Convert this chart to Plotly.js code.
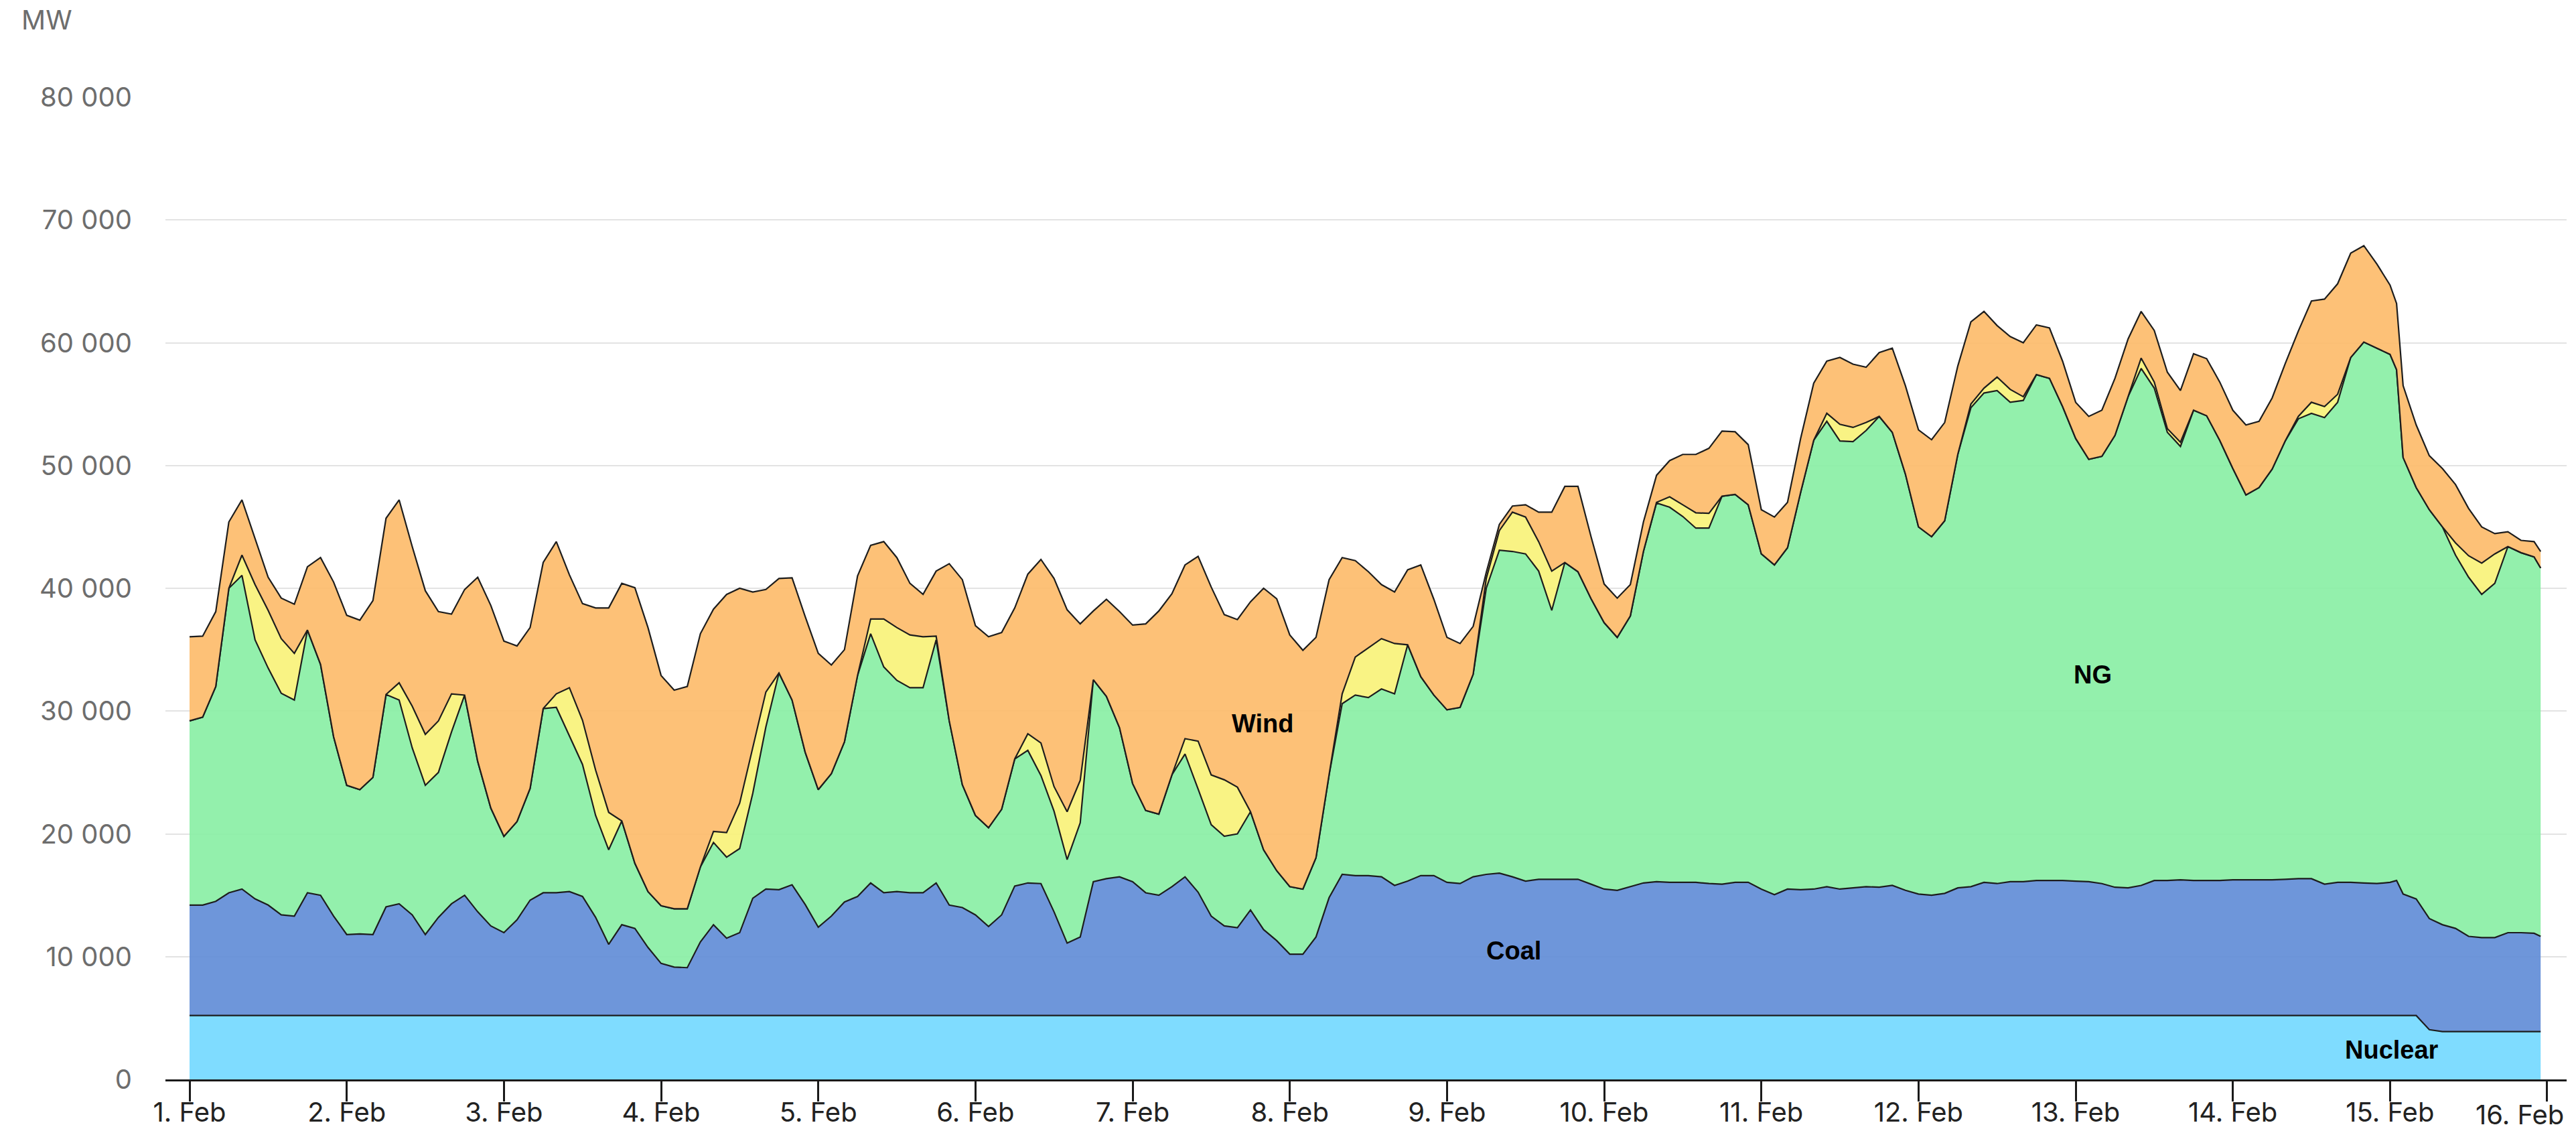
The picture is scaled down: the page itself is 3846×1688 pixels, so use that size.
<!DOCTYPE html>
<html>
<head>
<meta charset="utf-8">
<script src="https://cdn.plot.ly/plotly-3.0.1.min.js"></script>
<style>
  html, body { margin: 0; padding: 0; background: #ffffff; }
  #chart { width: 3846px; height: 1688px; }
</style>
</head>
<body>
<div id="chart"></div>
<script>
// Hours since 1 Feb 2021 00:00 (2-hour steps, plus 37 h of 15 Feb sampled at 13:00, last sample 23:00 on 15 Feb)
const startDate = Date.UTC(2021, 1, 1, 0, 0);
const hours = [];
for (let i = 0; i < 180; i++) {
  hours.push(i * 2);
  if (i * 2 === 336) hours.push(337);
}
hours.push(359);
const times = hours.map(h => new Date(startDate + h * 3600000).toISOString().slice(0, 16).replace('T', ' '));

// Generation by fuel, MW
const nuclear = [
  5200,5200,5200,5200,5200,5200,5200,5200,5200,5200,
  5200,5200,5200,5200,5200,5200,5200,5200,5200,5200,
  5200,5200,5200,5200,5200,5200,5200,5200,5200,5200,
  5200,5200,5200,5200,5200,5200,5200,5200,5200,5200,
  5200,5200,5200,5200,5200,5200,5200,5200,5200,5200,
  5200,5200,5200,5200,5200,5200,5200,5200,5200,5200,
  5200,5200,5200,5200,5200,5200,5200,5200,5200,5200,
  5200,5200,5200,5200,5200,5200,5200,5200,5200,5200,
  5200,5200,5200,5200,5200,5200,5200,5200,5200,5200,
  5200,5200,5200,5200,5200,5200,5200,5200,5200,5200,
  5200,5200,5200,5200,5200,5200,5200,5200,5200,5200,
  5200,5200,5200,5200,5200,5200,5200,5200,5200,5200,
  5200,5200,5200,5200,5200,5200,5200,5200,5200,5200,
  5200,5200,5200,5200,5200,5200,5200,5200,5200,5200,
  5200,5200,5200,5200,5200,5200,5200,5200,5200,5200,
  5200,5200,5200,5200,5200,5200,5200,5200,5200,5200,
  5200,5200,5200,5200,5200,5200,5200,5200,5200,5200,5200,
  5200,4050,3900,3900,3900,3900,3900,3900,3900,3900,
  3900
];
const coal = [
  9000,9000,9300,10000,10300,9500,9000,8200,8100,10000,
  9800,8100,6600,6650,6600,8850,9100,8200,6600,8000,
  9100,9800,8450,7300,6750,7800,9400,10000,10000,10100,
  9700,8000,5800,7400,7100,5550,4250,3950,3900,6000,
  7400,6300,6750,9550,10300,10250,10650,9050,7200,8100,
  9250,9700,10800,10000,10100,10000,10000,10800,9000,8800,
  8200,7250,8200,10550,10800,10750,8450,5900,6400,10900,
  11150,11300,10900,10000,9800,10500,11300,10050,8100,7300,
  7150,8600,7000,6100,5000,5000,6400,9600,11500,11400,
  11400,11300,10600,10950,11400,11400,10850,10750,11300,11500,
  11600,11300,10950,11100,11100,11100,11100,10700,10300,10200,
  10500,10800,10900,10850,10850,10850,10750,10700,10850,10850,
  10300,9850,10300,10250,10300,10500,10300,10400,10500,10450,
  10600,10200,9900,9800,9950,10400,10500,10850,10750,10900,
  10900,11000,11000,11000,10950,10900,10750,10450,10400,10600,
  11000,11000,11050,11000,11000,11000,11050,11050,11050,11050,
  11100,11150,11150,10700,10850,10850,10800,10750,10850,11000,9900,
  9500,9050,8700,8400,7750,7650,7650,8050,8050,8000,
  7750
];
const ng = [
  15000,15300,17500,24800,25550,21100,19300,18050,17600,21400,
  18800,14600,12150,11750,12800,17300,16600,13600,12150,11800,
  14000,16300,12250,9600,7850,8000,9100,15000,15100,12650,
  10750,8300,7700,8450,5300,4550,4700,4750,4800,6100,
  6700,6600,6850,8550,13200,17650,15050,12400,11200,11600,
  13050,18000,20300,18400,17200,16700,16700,19800,15000,10000,
  8100,8050,8600,10350,10800,8800,8200,6800,9300,16450,
  14850,12150,8000,6700,6600,9100,10000,8400,7450,7300,
  7650,8000,6500,5700,5500,5300,6450,10000,13900,14700,
  14500,15300,15600,19250,16200,14700,14050,14350,16500,23300,
  26300,26500,26650,25100,21900,25800,25050,23250,21700,20600,
  22050,27000,30850,30550,29800,28850,28950,31600,31600,30750,
  27300,26850,27800,32350,36550,37900,36500,36350,37150,38350,
  36900,33900,29900,29200,30350,35300,39000,39850,40150,39050,
  39200,41200,40900,38600,36050,34400,34800,36800,40000,42100,
  40100,36500,35300,38300,37850,35850,33500,31350,31950,33450,
  35700,37450,37900,38000,39100,42750,44050,43600,43000,41600,35550,
  33500,33300,32400,30400,29250,27950,28850,31450,30950,30650,
  30000
];
const solar = [
  0,0,0,0,1650,4500,4700,4450,3800,0,
  0,0,0,0,0,0,1400,3400,4150,4200,
  3100,0,0,0,0,0,0,0,1100,3950,
  3600,3700,3050,0,0,0,0,0,0,0,
  900,2000,3700,3700,2850,0,0,0,0,0,
  0,0,1200,3900,4300,4300,4150,300,0,0,
  0,0,0,0,1350,2650,2000,3900,3450,0,
  0,0,0,0,0,0,1250,3900,4050,4600,
  3800,0,0,0,0,0,0,0,800,3100,
  4050,4100,4100,0,0,0,0,0,0,800,
  1600,3200,3000,2400,3200,0,0,0,0,0,
  0,0,50,850,950,1250,1200,0,0,0,
  0,0,0,0,0,650,1350,1150,650,0,
  0,0,0,0,0,0,300,400,1100,1050,
  300,0,0,0,0,0,0,0,0,850,
  500,300,350,0,0,0,0,0,0,0,
  0,200,900,900,650,0,0,0,0,0,0,
  0,0,0,1000,1750,2550,2400,0,0,0,
  0
];
const wind = [
  6850,6600,6100,5400,4500,3800,2700,3300,4000,5150,
  8700,12600,13850,13800,14400,14350,14900,13000,11700,8900,
  6500,8600,15000,16500,15900,14300,13100,11900,12400,9200,
  9500,13200,16650,19350,22450,21500,18750,17800,18100,19000,
  18100,19400,17500,12700,8350,7700,9950,11050,11100,8850,
  7500,8100,6000,6300,5700,4200,3450,5300,12800,16700,
  15450,15550,14400,12300,13000,14950,16950,16450,12750,5600,
  7900,9450,12900,15200,16550,14750,14150,15050,15300,13450,
  13650,17100,21300,22150,20500,19450,17950,15900,11100,7850,
  6200,4400,4200,6100,9100,7800,5900,5200,3900,500,
  500,500,1000,2400,4800,6200,6950,5050,3150,3200,
  2550,2400,2200,2950,4100,4750,5300,5300,5100,4900,
  3600,3900,3700,4400,4650,4250,5450,5150,4500,5200,
  6850,7200,7900,7900,8000,7200,6700,6250,4200,4300,
  4400,4050,4100,3700,2950,3500,3750,4650,4700,3800,
  4200,4600,4200,4600,4650,4750,4750,5700,5400,5800,
  6300,6950,8250,8750,9000,8500,7850,6850,5650,5400,5850,
  5100,4400,4750,4750,3850,2950,1650,1200,1000,1250,
  1350
];

const seriesNames = ['Nuclear', 'Coal', 'NG', 'Solar', 'Wind'];
const seriesValues = [nuclear, coal, ng, solar, wind];
const fillColors = ['rgba(116,217,255,0.92)', 'rgba(98,141,215,0.92)', 'rgba(138,239,165,0.92)', 'rgba(248,242,121,0.92)', 'rgba(253,188,107,0.92)'];

const yTicks = [0, 10000, 20000, 30000, 40000, 50000, 60000, 70000, 80000];
const xTickDates = ['2021-02-01','2021-02-02','2021-02-03','2021-02-04','2021-02-05','2021-02-06','2021-02-07','2021-02-08',
                    '2021-02-09','2021-02-10','2021-02-11','2021-02-12','2021-02-13','2021-02-14','2021-02-15','2021-02-16'];
const xTickLabels = ['1. Feb','2. Feb','3. Feb','4. Feb','5. Feb','6. Feb','7. Feb','8. Feb',
                     '9. Feb','10. Feb','11. Feb','12. Feb','13. Feb','14. Feb','15. Feb','16. Feb'];

// Area labels
const labelText = ['Wind', 'Coal', 'NG', 'Nuclear'];
const labelX = ['2021-02-07 19:54', '2021-02-09 10:12', '2021-02-13 02:36', '2021-02-15 00:18'];
const labelY = [28950, 10500, 32950, 2400];

const traces = seriesNames.map((name, i) => ({
  type: 'scatter',
  mode: 'lines',
  name: name,
  x: times,
  y: seriesValues[i],
  stackgroup: 'one',
  line: { color: '#1d1d1d', width: 2.2, shape: 'linear' },
  fillcolor: fillColors[i],
  hoverinfo: 'skip',
  showlegend: false
}));

const annotations = labelText.map((t, i) => ({
  x: labelX[i], y: labelY[i], xref: 'x', yref: 'y',
  text: '<b>' + t + '</b>', showarrow: false,
  font: { family: 'Liberation Sans, Arial, sans-serif', size: 38, color: '#000000' },
  xanchor: 'center', yanchor: 'middle'
}));
annotations.push({
  x: -0.0605, y: 1.0785, xref: 'paper', yref: 'paper',
  text: 'MW', showarrow: false, xanchor: 'left', yanchor: 'middle',
  font: { family: 'Inter, sans-serif', size: 40, color: '#6d6d6d' }
});
// last x tick label is pulled inside the page edge, as in the reference
const lastIdx = xTickLabels.length - 1;
annotations.push({
  x: 0.9994, y: -0.0355, xref: 'paper', yref: 'paper',
  text: xTickLabels[lastIdx], showarrow: false, xanchor: 'right', yanchor: 'middle',
  font: { family: 'Inter, sans-serif', size: 40, color: '#222222' }
});

const layout = {
  width: 3846, height: 1688,
  margin: { l: 247, r: 14, t: 145, b: 77 },
  paper_bgcolor: '#ffffff', plot_bgcolor: '#ffffff',
  separators: '. ',
  showlegend: false,
  xaxis: {
    type: 'date',
    range: ['2021-01-31 20:19', '2021-02-16 02:58'],
    tickvals: xTickDates,
    ticktext: xTickLabels.map((t, i) => (i === lastIdx ? '' : t)),
    ticks: 'outside', ticklen: 30, tickwidth: 3, tickcolor: '#1a1a1a',
    showline: true, linecolor: '#1a1a1a', linewidth: 3,
    showgrid: false, zeroline: false,
    ticklabelstandoff: -18,
    tickfont: { family: 'Inter, sans-serif', size: 40, color: '#222222' }
  },
  yaxis: {
    range: [0, 80000],
    tickvals: yTicks, tickformat: ',d',
    showgrid: true, gridcolor: '#e3e3e3', gridwidth: 2,
    showline: false, zeroline: false, ticks: '',
    ticklabelstandoff: 49,
    tickfont: { family: 'Inter, sans-serif', size: 40, color: '#6d6d6d' }
  },
  annotations: annotations
};

Plotly.newPlot('chart', traces, layout, { staticPlot: true, displayModeBar: false });
</script>
</body>
</html>
